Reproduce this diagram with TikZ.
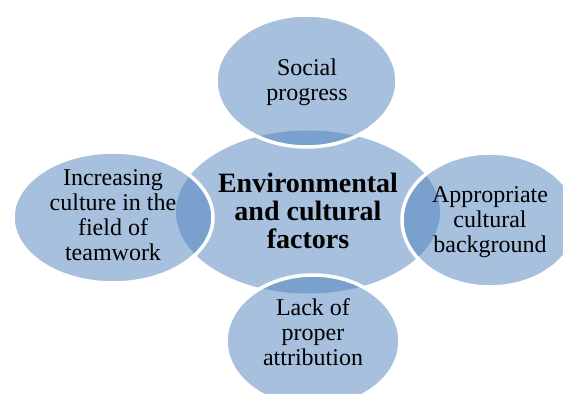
\documentclass[tikz,border=0pt]{standalone}
\usepackage{fontspec}
\setmainfont{Liberation Serif}
\usetikzlibrary{shapes.geometric}
\definecolor{accent}{RGB}{79,129,189}
\begin{document}
\begin{tikzpicture}[x=1pt,y=-1pt,
  blob/.style={ellipse, inner sep=0pt, outer sep=0pt, fill=accent, fill opacity=0.5, draw=white, line width=3.5pt},
  lbl/.style={align=center, font=\fontsize{24}{25}\selectfont, text=black, inner sep=0pt},
  hub/.style={align=center, font=\fontsize{28}{28}\selectfont\bfseries, text=black, inner sep=0pt}]
\useasboundingbox (0,0) rectangle (563,394);
\node[blob, draw=none, minimum width=264pt, minimum height=163pt] (center) at (308,212) {};
\node[blob, minimum width=181pt, minimum height=132pt] (top) at (306.5,81) {};
\node[blob, minimum width=200pt, minimum height=131pt] (left) at (113,217.5) {};
\node[blob, minimum width=176pt, minimum height=134pt] (right) at (490,220) {};
\node[blob, minimum width=174pt, minimum height=132pt] (bottom) at (313,341) {};
\node[hub] (tcenter) at (308,211) {Environmental\\and cultural\\factors};
\node[lbl] (ttop) at (307,82) {Social\\progress};
\node[lbl] (tleft) at (113,215) {Increasing\\culture in the\\field of\\teamwork};
\node[lbl] (tright) at (490,222) {Appropriate\\cultural\\background};
\node[lbl] (tbottom) at (313,332) {Lack of\\proper\\attribution};
\end{tikzpicture}
\end{document}
